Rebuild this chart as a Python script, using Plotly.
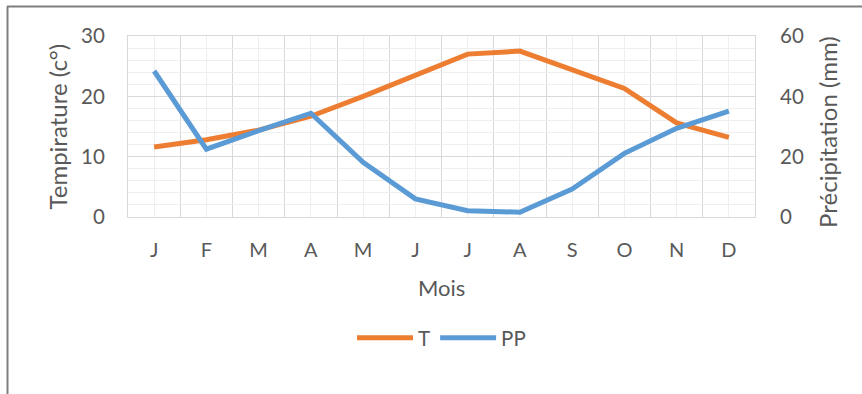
import plotly.graph_objects as go

months = ["J", "F", "M", "A", "M", "J", "J", "A", "S", "O", "N", "D"]
temperature = [11.6, 12.8, 14.4, 16.7, 20.0, 23.4, 27.0, 27.5, 24.4, 21.3, 15.6, 13.2]
precipitation = [48.4, 22.5, 28.6, 34.4, 18.1, 6.0, 2.1, 1.6, 9.3, 21.1, 29.4, 35.1]
left_ticks = [0, 10, 20, 30]
right_ticks = [0, 20, 40, 60]

xpos = list(range(len(months)))
txt = "#595959"
font = "Lato"

fig = go.Figure()
fig.add_trace(go.Scatter(x=xpos, y=temperature, name="T", mode="lines",
                         line=dict(color="#ED7D31", width=5)))
fig.add_trace(go.Scatter(x=xpos, y=precipitation, name="PP", mode="lines", yaxis="y2",
                         line=dict(color="#5B9BD5", width=5)))

fig.update_layout(
    width=862, height=394,
    margin=dict(l=128, r=107, t=36, b=177),
    paper_bgcolor="white", plot_bgcolor="white",
    font=dict(family=font, color=txt, size=20),
    showlegend=True,
    legend=dict(orientation="h", x=0.5, xanchor="center", y=-0.668, yanchor="middle",
                font=dict(size=20.5, color=txt), itemwidth=56, tracegroupgap=0),
    xaxis=dict(range=[-0.5, 11.5], tickmode="array", tickvals=xpos, ticktext=months,
               showgrid=True, gridcolor="#EFEFEF", gridwidth=1,
               minor=dict(tick0=-0.5, dtick=1, showgrid=True, gridcolor="#D9D9D9", gridwidth=1),
               ticks="outside", ticklen=15, tickcolor="rgba(0,0,0,0)",
               tickfont=dict(size=20, color=txt),
               showline=True, linecolor="#D9D9D9", linewidth=1, mirror=True,
               zeroline=False, fixedrange=True),
    yaxis=dict(range=[0, 30], tickmode="array", tickvals=left_ticks,
               showgrid=True, gridcolor="#D9D9D9", gridwidth=1,
               minor=dict(dtick=2, showgrid=True, gridcolor="#EFEFEF", gridwidth=1),
               ticks="outside", ticklen=18, tickcolor="rgba(0,0,0,0)",
               tickfont=dict(size=20.5, color=txt),
               showline=True, linecolor="#D9D9D9", linewidth=1, mirror=True,
               zeroline=False),
    yaxis2=dict(range=[0, 60], tickmode="array", tickvals=right_ticks, overlaying="y", side="right",
                showgrid=False, ticks="outside", ticklen=20, tickcolor="rgba(0,0,0,0)",
                tickfont=dict(size=20.5, color=txt), zeroline=False, showline=False),
)

fig.add_annotation(text="Tempirature (c°)", xref="paper", yref="paper", x=-0.1132, y=0.5,
                   textangle=-90, showarrow=False, font=dict(size=24, color=txt),
                   xanchor="center", yanchor="middle")
fig.add_annotation(text="Précipitation (mm)", xref="paper", yref="paper", x=1.1164, y=0.47,
                   textangle=-90, showarrow=False, font=dict(size=24, color=txt),
                   xanchor="center", yanchor="middle")
fig.add_annotation(text="Mois", xref="paper", yref="paper", x=0.5, y=(217 - 287) / 181,
                   showarrow=False, font=dict(size=22, color=txt),
                   xanchor="center", yanchor="middle")

# outer frame (left and top edges)
fig.add_shape(type="line", xref="paper", yref="paper",
              x0=(7.5 - 128) / 627, x1=(7.5 - 128) / 627, y0=(217 - 394) / 181, y1=(217 - 6.5) / 181,
              line=dict(color="#7F7F7F", width=2))
fig.add_shape(type="line", xref="paper", yref="paper",
              x0=(7 - 128) / 627, x1=(862 - 128) / 627, y0=(217 - 6.5) / 181, y1=(217 - 6.5) / 181,
              line=dict(color="#7F7F7F", width=2))

fig.write_html("out.html", config={"displayModeBar": False},
               post_script="document.body.style.margin='0';document.body.style.overflow='hidden';")
